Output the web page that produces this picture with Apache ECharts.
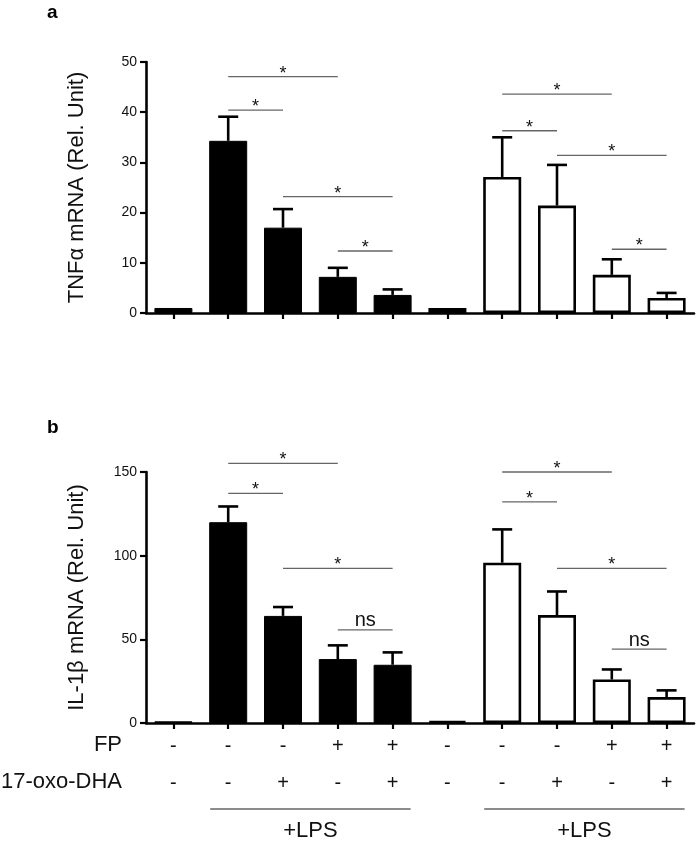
<!DOCTYPE html>
<html>
<head>
<meta charset="utf-8">
<script src="https://cdn.jsdelivr.net/npm/echarts@6/dist/echarts.min.js"></script>
<style>
  html, body { margin: 0; padding: 0; background: #fff; }
  #chart { width: 700px; height: 843px; }
</style>
</head>
<body>
<div id="chart"></div>
<script>
// ten conditions: 5 filled (black) + 5 open (white)
const conditions = ['c1', 'c2', 'c3', 'c4', 'c5', 'c6', 'c7', 'c8', 'c9', 'c10'];
const fpSigns = ['-', '-', '-', '+', '+', '-', '-', '-', '+', '+'];
const oxoSigns = ['-', '-', '+', '-', '+', '-', '-', '+', '-', '+'];

// panel a: TNFα
const tnfMean = [1.0, 34.3, 17.0, 7.2, 3.6, 1.0, 27.1, 21.4, 7.6, 3.0];
const tnfErrTop = [null, 39.1, 20.7, 9.0, 4.7, null, 35.0, 29.5, 10.7, 4.0];
// [from, to, y, label]
const tnfSig = [
  [1, 3, 47.1, '*'], [1, 2, 40.4, '*'], [2, 4, 23.2, '*'], [3, 4, 12.35, '*'],
  [6, 8, 43.6, '*'], [6, 7, 36.3, '*'], [7, 9, 31.4, '*'], [8, 9, 12.7, '*']
];

// panel b: IL-1β
const ilMean = [1.0, 120.0, 64.0, 38.2, 34.8, 1.0, 95.8, 64.5, 26.0, 15.5];
const ilErrTop = [null, 129.4, 69.3, 46.4, 42.2, null, 115.7, 78.6, 32.0, 19.5];
const ilSig = [
  [1, 3, 155.1, '*'], [1, 2, 137.2, '*'], [2, 4, 92.4, '*'], [3, 4, 55.7, 'ns'],
  [6, 8, 150.0, '*'], [6, 7, 132.2, '*'], [7, 9, 92.4, '*'], [8, 9, 44.2, 'ns']
];

const lpsGroups = [[1, 4, '+LPS'], [6, 9, '+LPS']];

const FONT = '"Liberation Sans", Arial, sans-serif';

const chart = echarts.init(document.getElementById('chart'));

function barData(means) {
  return means.map((v, i) => ({
    value: v,
    itemStyle: i < 5
      ? { color: '#000', borderColor: '#000', borderWidth: 1 }
      : { color: '#fff', borderColor: '#000', borderWidth: 2.6 }
  }));
}

function errData(means, tops) {
  const out = [];
  tops.forEach((t, i) => { if (t != null) out.push([i, means[i], t]); });
  return out;
}

function errSeries(means, tops, idx) {
  return {
    type: 'custom',
    xAxisIndex: idx,
    yAxisIndex: idx,
    z: 1,
    silent: true,
    data: errData(means, tops),
    encode: { x: 0, y: [1, 2] },
    renderItem: (params, api) => {
      const p0 = api.coord([api.value(0), api.value(1)]);
      const p1 = api.coord([api.value(0), api.value(2)]);
      const st = { stroke: '#000', lineWidth: 2.6 };
      return {
        type: 'group',
        children: [
          { type: 'line', shape: { x1: p0[0], y1: p0[1], x2: p1[0], y2: p1[1] }, style: st },
          { type: 'line', shape: { x1: p1[0] - 10, y1: p1[1], x2: p1[0] + 10, y2: p1[1] }, style: st }
        ]
      };
    }
  };
}

function sigSeries(sig, idx) {
  return {
    type: 'custom',
    xAxisIndex: idx,
    yAxisIndex: idx,
    clip: false,
    silent: true,
    data: sig.map(s => [s[0], s[2], s[1]]),
    encode: { x: [0, 2], y: 1 },
    renderItem: (params, api) => {
      const s = sig[params.dataIndex];
      const a = api.coord([s[0], s[2]]);
      const b = api.coord([s[1], s[2]]);
      const isStar = s[3] === '*';
      return {
        type: 'group',
        children: [
          {
            type: 'line',
            shape: { x1: a[0], y1: a[1], x2: b[0], y2: a[1] },
            style: { stroke: '#666', lineWidth: 1.3 }
          },
          {
            type: 'text',
            style: {
              text: s[3],
              x: (a[0] + b[0]) / 2,
              y: isStar ? a[1] - 3 : a[1] + 1,
              align: 'center',
              verticalAlign: isStar ? 'middle' : 'bottom',
              fontSize: isStar ? 18 : 20,
              fontFamily: FONT,
              fill: '#111'
            }
          }
        ]
      };
    }
  };
}

const lpsSeries = {
  type: 'custom',
  xAxisIndex: 1,
  yAxisIndex: 1,
  clip: false,
  silent: true,
  data: lpsGroups.map(g => [g[0], g[1]]),
  encode: { x: [0, 1] },
  renderItem: (params, api) => {
    const g = lpsGroups[params.dataIndex];
    const a = api.coord([g[0], 0]);
    const b = api.coord([g[1], 0]);
    const y = a[1] + 86;
    return {
      type: 'group',
      children: [
        {
          type: 'line',
          shape: { x1: a[0] - 18, y1: y, x2: b[0] + 18, y2: y },
          style: { stroke: '#666', lineWidth: 1.3 }
        },
        {
          type: 'text',
          style: {
            text: g[2],
            x: (a[0] + b[0]) / 2,
            y: y + 22,
            align: 'center',
            verticalAlign: 'middle',
            fontSize: 22,
            fontFamily: FONT,
            fill: '#111'
          }
        }
      ]
    };
  }
};

const axisLine = { show: true, lineStyle: { color: '#000', width: 2.6 } };
const axisTick = { show: true, length: 6, lineStyle: { color: '#000', width: 2.2 } };

function yAxis(idx, max, interval, name) {
  return {
    gridIndex: idx,
    type: 'value',
    min: 0,
    max: max,
    interval: interval,
    name: name,
    nameLocation: 'middle',
    nameGap: 58,
    nameTextStyle: { fontSize: 22, fontFamily: FONT, color: '#111' },
    axisLine: axisLine,
    axisTick: axisTick,
    splitLine: { show: false },
    axisLabel: { fontSize: 14, fontFamily: FONT, color: '#111', margin: 9 }
  };
}

function xAxis(idx, showLabels) {
  return {
    gridIndex: idx,
    type: 'category',
    data: conditions,
    boundaryGap: true,
    axisLine: axisLine,
    axisTick: Object.assign({ alignWithLabel: true }, axisTick),
    axisLabel: showLabels
      ? {
          show: true,
          interval: 0,
          margin: 5,
          formatter: (v, i) => `{s|${fpSigns[i]}}\n{s|${oxoSigns[i]}}`,
          rich: { s: { fontSize: 20, lineHeight: 37, fontFamily: FONT, color: '#111' } }
        }
      : { show: false }
  };
}

chart.setOption({
  animation: false,
  backgroundColor: '#fff',
  grid: [
    { left: 146, right: 6, top: 62, height: 251 },
    { left: 146, right: 6, top: 472, height: 251 }
  ],
  xAxis: [xAxis(0, false), xAxis(1, true)],
  yAxis: [
    yAxis(0, 50, 10, 'TNFα mRNA (Rel. Unit)'),
    yAxis(1, 150, 50, 'IL-1β mRNA (Rel. Unit)')
  ],
  graphic: [
    { type: 'text', left: 47, top: 3, style: { text: 'a', fontSize: 19, fontWeight: 'bold', fontFamily: FONT, fill: '#000' } },
    { type: 'text', left: 47, top: 418, style: { text: 'b', fontSize: 19, fontWeight: 'bold', fontFamily: FONT, fill: '#000' } },
    { type: 'text', right: 578, top: 734, style: { text: 'FP', fontSize: 22, fontFamily: FONT, fill: '#111', align: 'right' } },
    { type: 'text', right: 578, top: 771, style: { text: '17-oxo-DHA', fontSize: 22, fontFamily: FONT, fill: '#111', align: 'right' } }
  ],
  series: [
    {
      type: 'bar',
      xAxisIndex: 0,
      yAxisIndex: 0,
      barWidth: 38,
      z: 2,
      data: barData(tnfMean)
    },
    errSeries(tnfMean, tnfErrTop, 0),
    sigSeries(tnfSig, 0),
    {
      type: 'bar',
      xAxisIndex: 1,
      yAxisIndex: 1,
      barWidth: 38,
      z: 2,
      data: barData(ilMean)
    },
    errSeries(ilMean, ilErrTop, 1),
    sigSeries(ilSig, 1),
    lpsSeries
  ]
});
</script>
</body>
</html>
